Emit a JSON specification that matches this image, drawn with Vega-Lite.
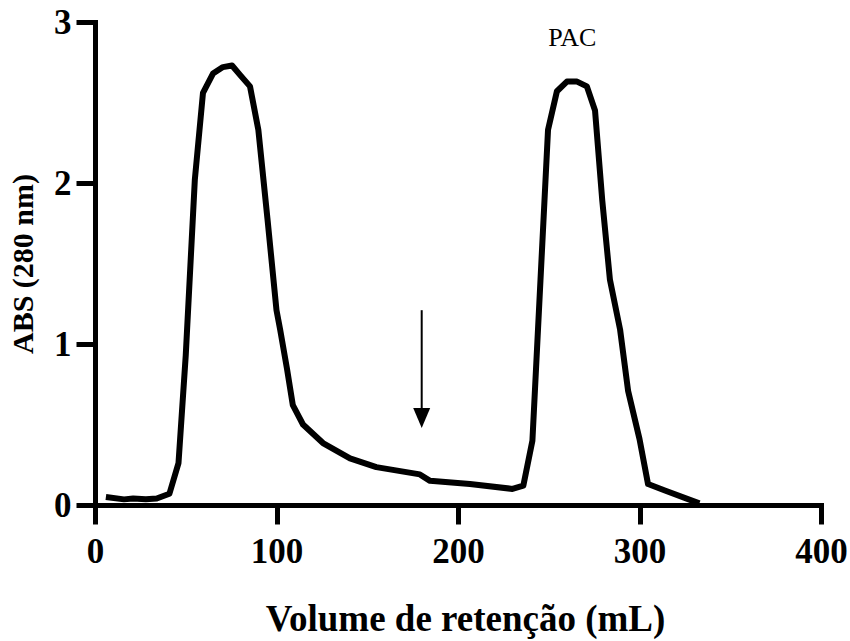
{
  "$schema": "https://vega.github.io/schema/vega-lite/v6.json",
  "width": 726,
  "height": 483,
  "autosize": {"type": "none"},
  "padding": {"left": 95, "top": 22, "right": 29, "bottom": 136},
  "background": "white",
  "config": {
    "view": {"stroke": null},
    "axis": {
      "domainColor": "black",
      "domainWidth": 5,
      "domainCap": "square",
      "tickColor": "black",
      "tickWidth": 5,
      "tickSize": 19,
      "grid": false,
      "labelFlush": false,
      "labelOverlap": false,
      "labelFont": "Liberation Serif",
      "labelFontWeight": "bold",
      "labelFontSize": 35,
      "labelColor": "black",
      "titleFont": "Liberation Serif",
      "titleFontWeight": "bold",
      "titleColor": "black"
    }
  },
  "datasets": {
    "curve": [
      {"vol": 6, "abs": 0.05},
      {"vol": 16, "abs": 0.035},
      {"vol": 21, "abs": 0.04},
      {"vol": 28, "abs": 0.035},
      {"vol": 34, "abs": 0.04},
      {"vol": 41, "abs": 0.07},
      {"vol": 46, "abs": 0.26},
      {"vol": 50, "abs": 0.93},
      {"vol": 55, "abs": 2.02},
      {"vol": 59.5, "abs": 2.56},
      {"vol": 65, "abs": 2.68},
      {"vol": 70.5, "abs": 2.72},
      {"vol": 75.5, "abs": 2.73},
      {"vol": 80, "abs": 2.67},
      {"vol": 85.4, "abs": 2.6},
      {"vol": 90, "abs": 2.33},
      {"vol": 95, "abs": 1.78},
      {"vol": 100, "abs": 1.21},
      {"vol": 102, "abs": 1.09},
      {"vol": 105.8, "abs": 0.845},
      {"vol": 109, "abs": 0.62},
      {"vol": 114.6, "abs": 0.5},
      {"vol": 125.6, "abs": 0.385},
      {"vol": 140.5, "abs": 0.29},
      {"vol": 155, "abs": 0.235},
      {"vol": 179, "abs": 0.19},
      {"vol": 184.6, "abs": 0.15},
      {"vol": 206.6, "abs": 0.13},
      {"vol": 230, "abs": 0.1},
      {"vol": 236, "abs": 0.12},
      {"vol": 241, "abs": 0.4},
      {"vol": 249.6, "abs": 2.33},
      {"vol": 254.5, "abs": 2.57},
      {"vol": 260, "abs": 2.63},
      {"vol": 265.6, "abs": 2.63},
      {"vol": 271, "abs": 2.6},
      {"vol": 275.5, "abs": 2.45},
      {"vol": 279.5, "abs": 1.89},
      {"vol": 283.7, "abs": 1.4},
      {"vol": 289.3, "abs": 1.09},
      {"vol": 293.7, "abs": 0.71},
      {"vol": 300, "abs": 0.41},
      {"vol": 304.7, "abs": 0.13},
      {"vol": 314, "abs": 0.09},
      {"vol": 333, "abs": 0.01}
    ],
    "arrow": [{"vol": 180, "top": 1.21, "base": 0.6, "head": 0.54}],
    "label": [{"vol": 263, "abs": 2.9, "text": "PAC"}]
  },
  "layer": [
    {
      "data": {"name": "curve"},
      "mark": {"type": "line", "color": "black", "strokeWidth": 6, "strokeJoin": "round"},
      "encoding": {
        "x": {
          "field": "vol", "type": "quantitative",
          "scale": {"domain": [0, 400], "nice": false},
          "axis": {
            "values": [0, 100, 200, 300, 400],
            "format": "d",
            "title": "Volume de retenção (mL)",
            "titleFontSize": 37,
            "labelPadding": 10,
            "titleX": 370,
            "titleY": 125,
            "titleBaseline": "alphabetic"
          }
        },
        "y": {
          "field": "abs", "type": "quantitative",
          "scale": {"domain": [0, 3], "nice": false},
          "axis": {
            "values": [0, 1, 2, 3],
            "format": "d",
            "title": "ABS (280 nm)",
            "titleFontSize": 30,
            "labelPadding": 5,
            "titleX": -72,
            "titleBaseline": "middle"
          }
        }
      }
    },
    {
      "data": {"name": "arrow"},
      "mark": {"type": "rule", "color": "black", "strokeWidth": 2},
      "encoding": {
        "x": {"field": "vol", "type": "quantitative"},
        "y": {"field": "top", "type": "quantitative"},
        "y2": {"field": "base"}
      }
    },
    {
      "data": {"name": "arrow"},
      "mark": {"type": "point", "shape": "M-0.85,-1L0.85,-1L0,1Z", "filled": true, "color": "black", "opacity": 1, "size": 400, "strokeWidth": 0},
      "encoding": {
        "x": {"field": "vol", "type": "quantitative"},
        "y": {"field": "head", "type": "quantitative"}
      }
    },
    {
      "data": {"name": "label"},
      "mark": {"type": "text", "font": "Liberation Serif", "fontSize": 26, "color": "black", "baseline": "middle", "align": "center"},
      "encoding": {
        "x": {"field": "vol", "type": "quantitative"},
        "y": {"field": "abs", "type": "quantitative"},
        "text": {"field": "text"}
      }
    }
  ]
}
